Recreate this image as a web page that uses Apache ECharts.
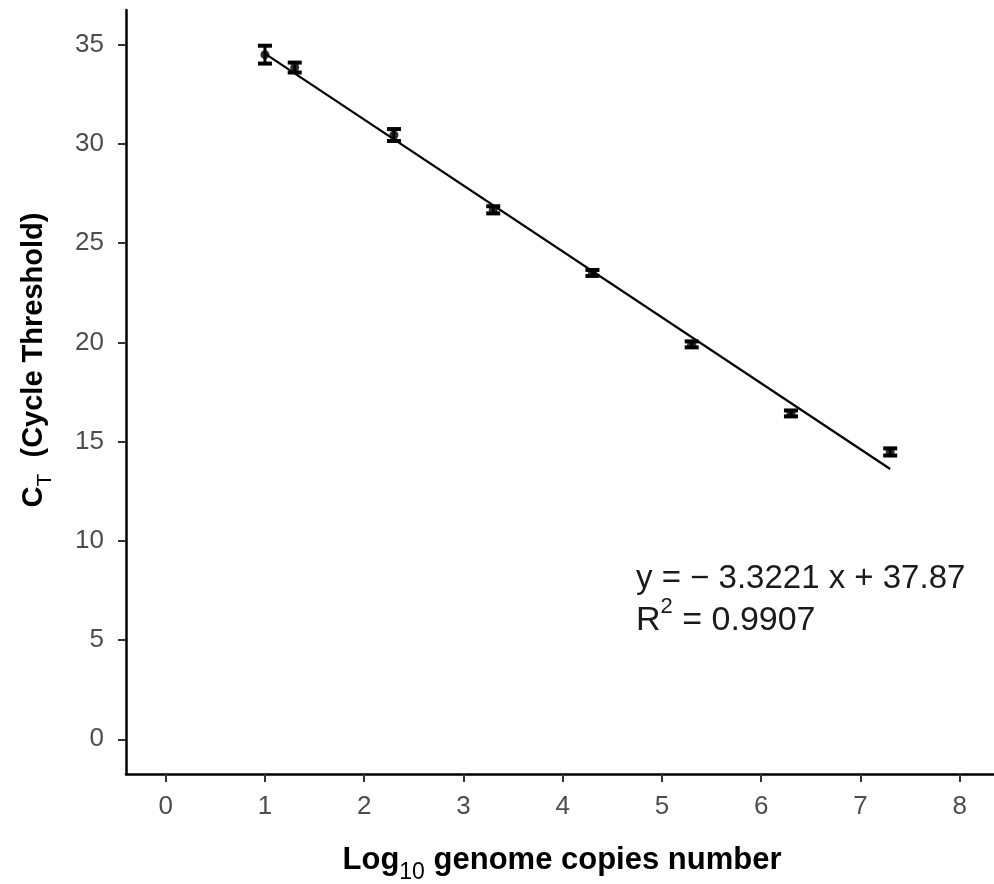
<!DOCTYPE html>
<html><head><meta charset="utf-8">
<script src="https://cdn.jsdelivr.net/npm/echarts@6/dist/echarts.min.js"></script>
<style>html,body{margin:0;padding:0;background:#fff}#c{width:994px;height:884px}</style>
</head><body><div id="c"></div>
<script>
var logCopies = [1, 1.3, 2.3, 3.3, 4.3, 5.3, 6.3, 7.3];
var ctMean = [34.5, 33.85, 30.45, 26.68, 23.5, 19.9, 16.42, 14.48];
var ctErr  = [0.45, 0.25, 0.3, 0.18, 0.15, 0.15, 0.15, 0.18];
var fitSlope = -3.3221, fitIntercept = 37.87;
var xTicks = [0,1,2,3,4,5,6,7,8];
var yTicks = [0,5,10,15,20,25,30,35];

var pts = logCopies.map(function(x,i){return [x, ctMean[i]];});
var errs = logCopies.map(function(x,i){return [x, ctMean[i]-ctErr[i], ctMean[i]+ctErr[i]];});
var x0 = logCopies[0], x1 = logCopies[logCopies.length-1];
var fit = [[x0, fitIntercept+fitSlope*x0],[x1, fitIntercept+fitSlope*x1]];

var chart = echarts.init(document.getElementById('c'));
var font = '"Liberation Sans", Arial, sans-serif';
chart.setOption({
  animation:false,
  backgroundColor:'#fff',
  grid:{left:126, top:10, width:868, height:764},
  xAxis:{type:'value', min:-0.4, max:8.346,
    axisLine:{show:true, onZero:false, lineStyle:{color:'#000', width:2.5}},
    axisTick:{show:true, customValues:xTicks, length:8, lineStyle:{color:'#333', width:2}},
    axisLabel:{customValues:xTicks, color:'#4d4d4d', fontSize:26, fontFamily:font, margin:20},
    splitLine:{show:false}
  },
  yAxis:{type:'value', min:-1.75, max:36.75,
    axisLine:{show:true, onZero:false, lineStyle:{color:'#000', width:2.5}},
    axisTick:{show:true, customValues:yTicks, length:8, lineStyle:{color:'#333', width:2}},
    axisLabel:{customValues:yTicks, color:'#4d4d4d', fontSize:26, fontFamily:font, margin:22},
    splitLine:{show:false}
  },
  series:[
    {type:'line', data:fit, symbol:'none', lineStyle:{color:'#000', width:2.2}, z:2},
    {type:'custom', z:3, data:errs, renderItem:function(params, api){
      var x = api.value(0);
      var lo = api.coord([x, api.value(1)]);
      var hi = api.coord([x, api.value(2)]);
      var w = 7;
      var st = {stroke:'#000', lineWidth:4};
      return {type:'group', children:[
        {type:'line', shape:{x1:lo[0], y1:lo[1], x2:hi[0], y2:hi[1]}, style:{stroke:'#000', lineWidth:3}},
        {type:'line', shape:{x1:lo[0]-w, y1:lo[1], x2:lo[0]+w, y2:lo[1]}, style:st},
        {type:'line', shape:{x1:hi[0]-w, y1:hi[1], x2:hi[0]+w, y2:hi[1]}, style:st}
      ]};
    }},
    {type:'scatter', data:pts, symbol:'circle', symbolSize:9, itemStyle:{color:'#000'}, z:4}
  ],
  graphic:[
    {type:'text', x:562, y:858, style:{
      text:'{a|Log}{s|10}{a| genome copies number}', align:'center', verticalAlign:'middle',
      rich:{
        a:{fontSize:31, fontWeight:'bold', fill:'#000', fontFamily:font, lineHeight:36, verticalAlign:'bottom'},
        s:{fontSize:23, fontWeight:'normal', fill:'#000', fontFamily:font, lineHeight:36, verticalAlign:'bottom', padding:[0,0,-8,0]}
      }}},
    {type:'text', x:30, y:360, rotation:Math.PI/2, style:{
      text:'{a|C}{s|T}{a|  (Cycle Threshold)}', align:'center', verticalAlign:'middle',
      rich:{
        a:{fontSize:29, fontWeight:'bold', fill:'#000', fontFamily:font, lineHeight:36, verticalAlign:'bottom'},
        s:{fontSize:21, fontWeight:'normal', fill:'#000', fontFamily:font, lineHeight:36, verticalAlign:'bottom', padding:[0,0,-8,0]}
      }}},
    {type:'text', x:636, y:579, style:{
      text:'y = − 3.3221 x + 37.87', fontSize:33, fontFamily:font, fill:'#1a1a1a', verticalAlign:'middle'}},
    {type:'text', x:636, y:617, style:{
      text:'{a|R}{p|2}{a| = 0.9907}', fill:'#1a1a1a', verticalAlign:'middle',
      rich:{a:{fontSize:34, fontFamily:font, lineHeight:42, verticalAlign:'bottom', fill:'#1a1a1a'},
            p:{fontSize:22, fontFamily:font, lineHeight:42, verticalAlign:'top', fill:'#1a1a1a', padding:[0,0,14,0]}}}}
  ]
});
</script></body></html>
